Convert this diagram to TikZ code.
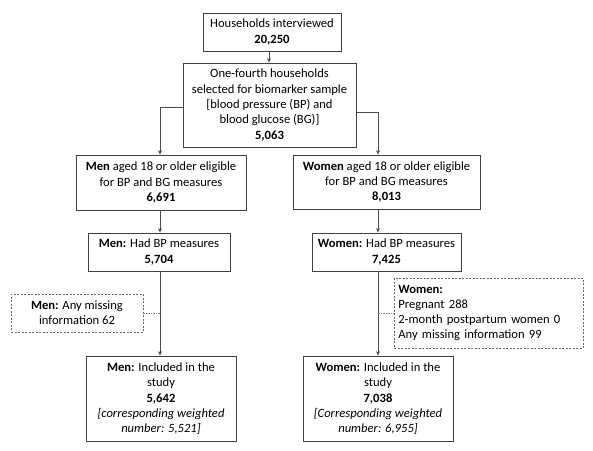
\documentclass[tikz,border=0pt]{standalone}
\usepackage{fontspec}
\setmainfont{Carlito}
\usetikzlibrary{arrows.meta}
\begin{document}
\begin{tikzpicture}[x=1pt,y=-1pt,
  txt/.style={font=\fontsize{12.6}{15.3}\selectfont, align=center, inner sep=0pt},
  box/.style={txt, draw=black!75, line width=0.8pt},
  dbox/.style={txt, draw=black!60, line width=0.7pt, dash pattern=on 2pt off 1.5pt},
  link/.style={draw=black!70, line width=0.7pt},
  arr/.style={link, -{Stealth[length=4.5pt,width=4pt]}},
  dlink/.style={draw=black!50, line width=0.7pt, dash pattern=on 1.5pt off 1pt}]
\useasboundingbox (0,0) rectangle (593,450);

% top of the flow
\node[box, minimum width=138pt, minimum height=38pt] (hh) at (272,32)
  {Households interviewed\\\textbf{20,250}};
\node[box, minimum width=173pt, minimum height=84pt] (bio) at (269.5,105)
  {One-fourth households\\selected for biomarker sample\\{}[blood pressure (BP) and\\blood glucose (BG)]\\\textbf{5,063}};

% men branch
\node[box, minimum width=170pt, minimum height=55pt] (m1) at (161,182.5)
  {\textbf{Men} aged 18 or older eligible\\for BP and BG measures\\\textbf{6,691}};
\node[box, minimum width=142pt, minimum height=38pt] (m2) at (159,252)
  {\textbf{Men:} Had BP measures\\\textbf{5,704}};
\node[dbox, minimum width=132pt, minimum height=38pt] (mx) at (77,313)
  {\textbf{Men:} Any missing\\information 62};
\node[box, minimum width=150pt, minimum height=85pt] (m3) at (161,398.5)
  {\textbf{Men:} Included in the\\study\\\textbf{5,642}\\{}\textit{[corresponding weighted}\\\textit{number: 5,521]}};

% women branch
\node[box, minimum width=187pt, minimum height=54pt] (w1) at (386.5,182)
  {\textbf{Women} aged 18 or older eligible\\for BP and BG measures\\\textbf{8,013}};
\node[box, minimum width=149pt, minimum height=38pt] (w2) at (386.5,252)
  {\textbf{Women:} Had BP measures\\\textbf{7,425}};
\node[dbox, minimum width=189pt, minimum height=70pt, align=left, anchor=west,
      text width=181pt, inner xsep=4pt] (wx) at (394,313)
  {\textbf{Women:}\\Pregnant 288\\2-month postpartum women 0\\Any missing information 99};
\node[box, minimum width=150pt, minimum height=85pt] (w3) at (378,398.5)
  {\textbf{Women:} Included in the\\study\\\textbf{7,038}\\{}\textit{[Corresponding weighted}\\\textit{number: 6,955]}};

% connector lanes
\coordinate (mlane) at (160,0);
\coordinate (wlane) at (378,0);
\coordinate (mjoin) at (160,313);
\coordinate (wjoin) at (378,313);

\draw[arr] (hh.south -| 269,0) -- (bio.north -| 269,0);
\draw[arr] (bio.west |- 0,107) -| (m1.north -| mlane);
\draw[arr] (bio.east |- 0,112) -| (w1.north -| wlane);
\draw[arr] (m1.south -| mlane) -- (m2.north -| mlane);
\draw[arr] (w1.south -| wlane) -- (w2.north -| wlane);
\draw[arr] (m2.south -| mlane) -- (m3.north -| mlane);
\draw[arr] (w2.south -| wlane) -- (w3.north -| wlane);
\draw[dlink] (mx.east) -- (mjoin);
\draw[dlink] (wjoin) -- (wx.west);
\end{tikzpicture}
\end{document}
